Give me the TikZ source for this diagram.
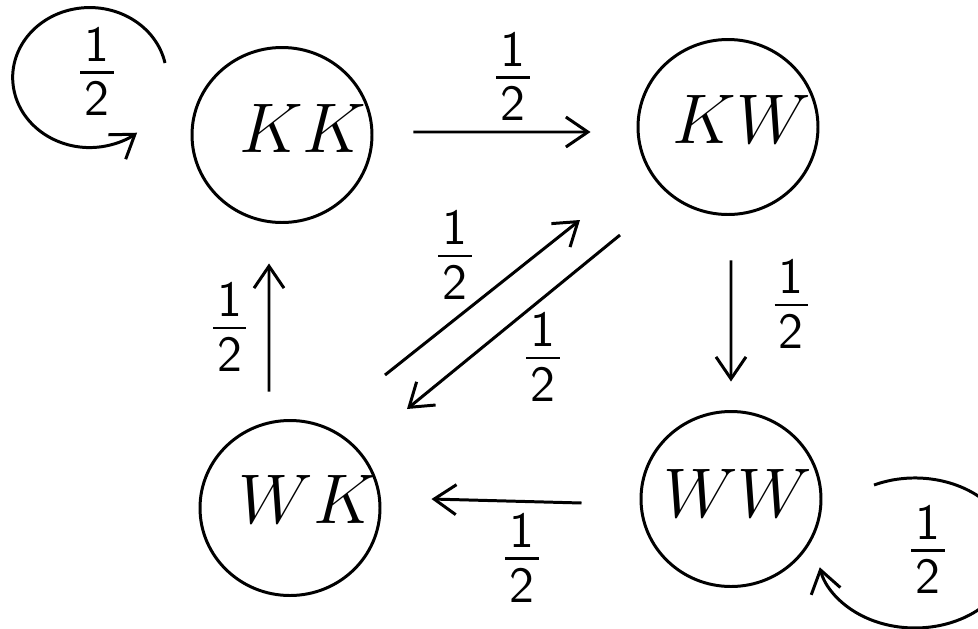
\RequirePackage{fix-cm}
\documentclass[tikz,border=0pt]{standalone}
\usetikzlibrary{arrows.meta,calc,positioning,shapes.geometric}
\tikzset{pin/.style={-{Straight Barb[length=2.2mm,width=3mm]}},
  st/.style={draw, ellipse, minimum width=18mm, minimum height=17.5mm, inner sep=0pt},
  lbl/.style={font=\fontsize{20}{24}\selectfont, inner sep=0pt},
  frac/.style={font=\fontsize{14.4}{17}\selectfont, inner sep=0pt}}
\newcommand{\half}{${\textstyle\mkern1.5mu\mathsf{1}\mkern1.5mu\rule[-2pt]{0pt}{2pt} \above .8pt \textstyle\rule{0pt}{11.1pt}\mathsf{2}}$}

\begin{document}
\begin{tikzpicture}[line width=.85pt]
  \useasboundingbox (0,0) rectangle (9.78,-6.29);
  % states
  \node[st] (kk) at (2.82,-1.35) {};
  \node[st] (kw) at (7.28,-1.27) {};
  \node[st] (wk) at (2.90,-5.08) {};
  \node[st] (ww) at (7.31,-4.99) {};
  \node[lbl] (kkt) at ($(kk)+(2.1mm,.7mm)$) {$KK$};
  \node[lbl] (kwt) at ($(kw)+(1.4mm,.8mm)$) {$KW$};
  \node[lbl] (wkt) at ($(wk)+(1.8mm,.9mm)$) {$WK$};
  \node[lbl] (wwt) at ($(ww)+(.7mm,.6mm)$) {$WW$};
  % transitions
  \draw[pin] ($(kk.east)+(4mm,.3mm)$) -- node[frac, above=1mm, xshift=1.1mm] (p1) {\half} ($(kw.west)+(-4.6mm,-.5mm)$);
  \draw[pin] ($(kw.south)+(.3mm,-4.45mm)$) -- node[frac, right=3.8mm, yshift=1.65mm] (p2) {\half} ($(ww.north)+(0,2.85mm)$);
  \draw[pin] ($(ww.west)+(-5.8mm,-.4mm)$) -- node[frac, below=1.2mm, xshift=1.55mm] (p3) {\half} ($(wk.east)+(5mm,.9mm)$);
  \draw[pin] ($(wk.north)+(-2.1mm,2.75mm)$) -- node[frac, left=1.7mm] (p4) {\half} ($(kk.south)+(-1.3mm,-3.95mm)$);
  \draw[pin] ($(wk)+(9.5mm,13.3mm)$) -- node[frac, xshift=-2.75mm, yshift=4.2mm] (p5) {\half} ($(kw)+(-14.8mm,-9.3mm)$);
  \draw[pin] ($(kw)+(-10.8mm,-10.8mm)$) -- node[frac, xshift=2.95mm, yshift=-3.55mm] (p6) {\half} ($(wk)+(11.7mm,9.9mm)$);
  % self loops
  \draw[pin] ($(kk)+(-11.7mm,7.2mm)$) arc[start angle=12, end angle=308, x radius=7.7mm, y radius=7mm];
  \node[frac] (p7) at ($(kk)+(-18.5mm,6.3mm)$) {\half};
  \draw[pin] ($(ww)+(14.3mm,1.4mm)$) arc[start angle=115, end angle=-169, x radius=9.7mm, y radius=7.5mm];
  \node[frac] (p8) at ($(ww)+(19.7mm,-5.1mm)$) {\half};
\end{tikzpicture}
\end{document}
